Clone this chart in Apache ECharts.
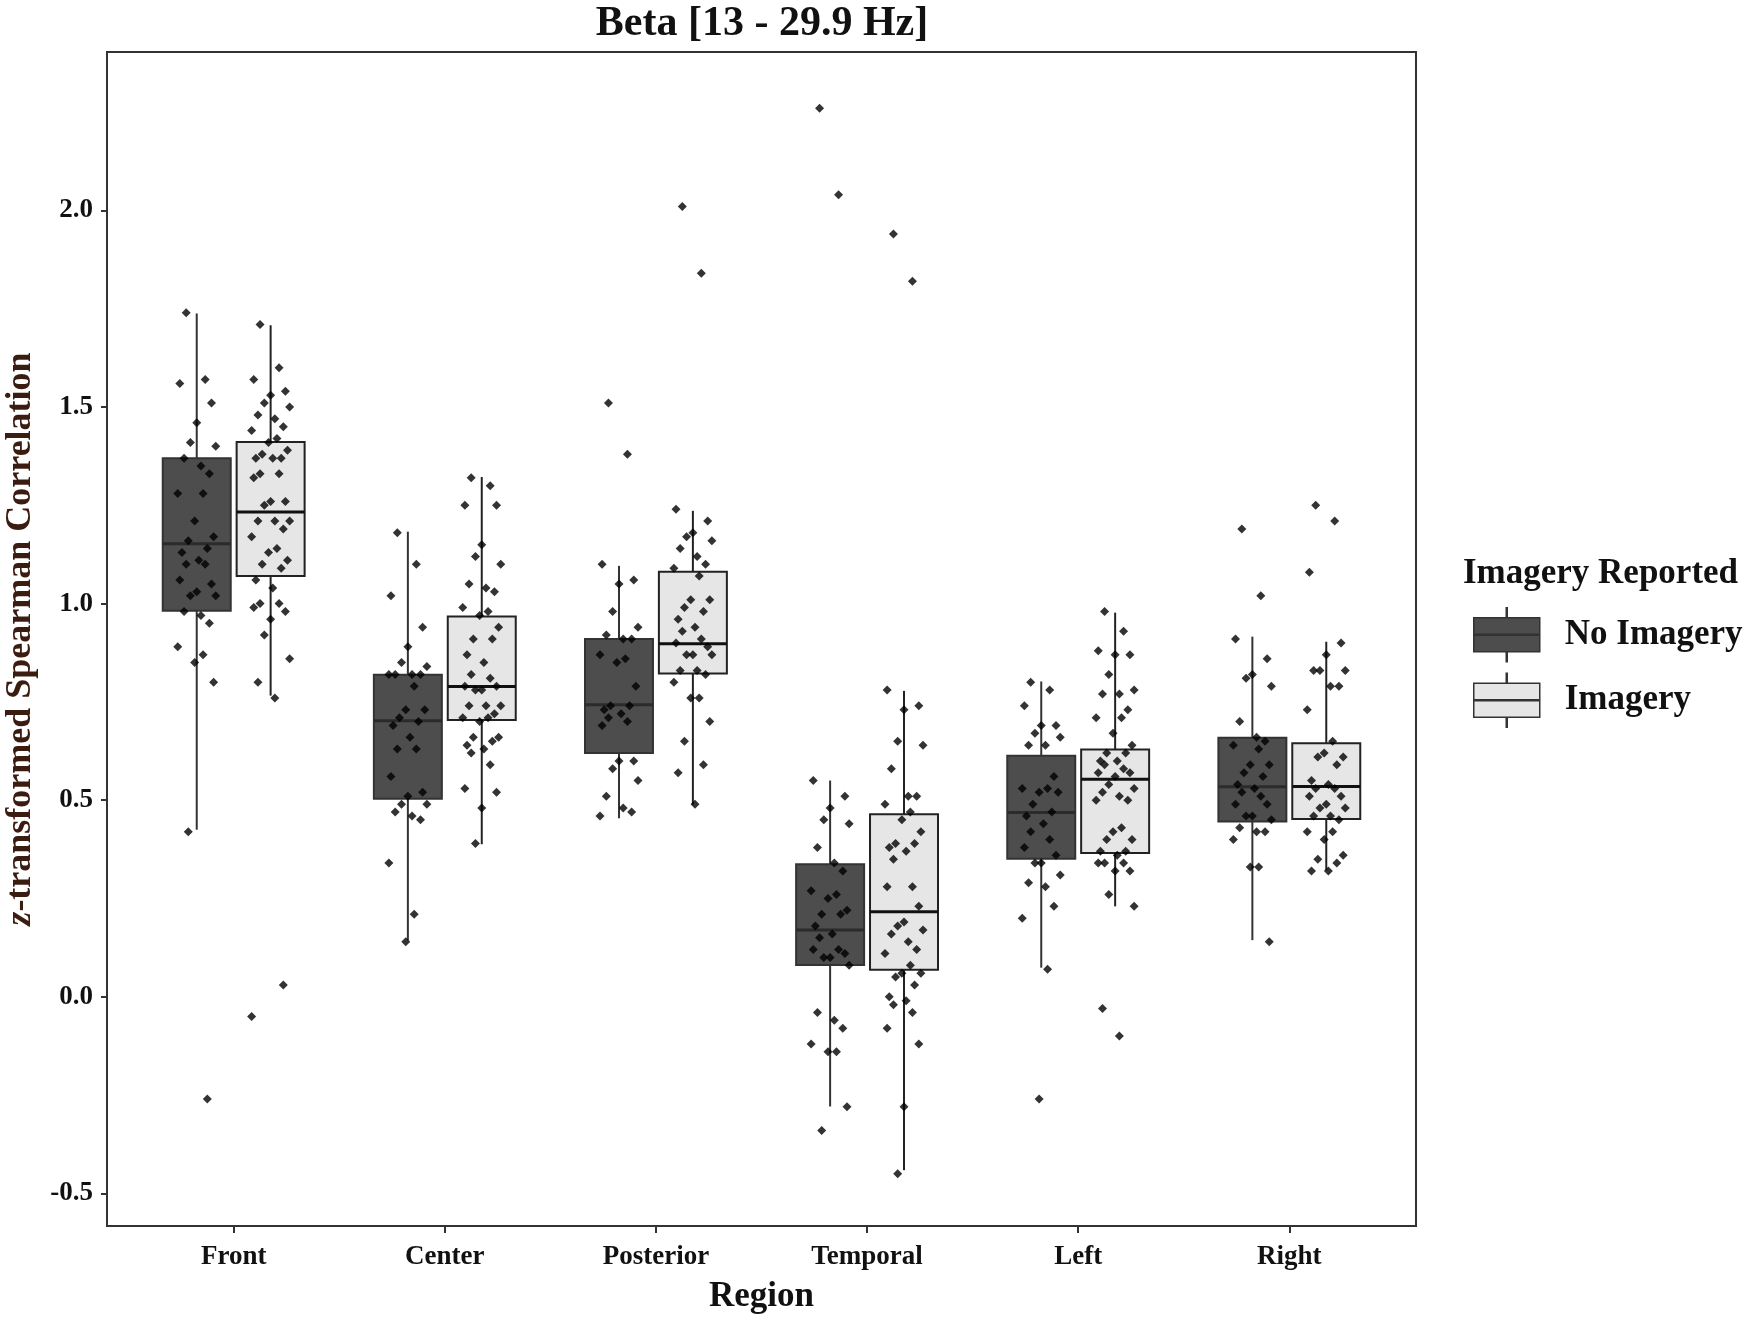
<!DOCTYPE html>
<html>
<head>
<meta charset="utf-8">
<title>Beta [13 - 29.9 Hz]</title>
<script src="https://cdn.jsdelivr.net/npm/echarts@6.0.0/dist/echarts.min.js"></script>
<style>
  html, body { margin: 0; padding: 0; background: #fff; }
  #chart { width: 1752px; height: 1320px; }
</style>
</head>
<body>
<div id="chart"></div>
<script>
// regions on the x axis and the y ticks
var REGIONS = ['Front', 'Center', 'Posterior', 'Temporal', 'Left', 'Right'];
var Y_TICKS = [-0.5, 0, 0.5, 1, 1.5, 2];

// box stats per region: [lower whisker, Q1, median, Q3, upper whisker]
var BOX_NO = [
    [0.425, 0.982, 1.152, 1.370, 1.738],
    [0.144, 0.504, 0.702, 0.819, 1.183],
    [0.454, 0.620, 0.743, 0.910, 1.096],
    [-0.279, 0.081, 0.170, 0.337, 0.550],
    [0.074, 0.351, 0.469, 0.613, 0.802],
    [0.144, 0.446, 0.534, 0.659, 0.916]
];
var BOX_IM = [
    [0.766, 1.070, 1.233, 1.411, 1.708],
    [0.388, 0.704, 0.789, 0.967, 1.322],
    [0.489, 0.822, 0.898, 1.081, 1.236],
    [-0.441, 0.069, 0.216, 0.464, 0.778],
    [0.230, 0.366, 0.553, 0.629, 0.977],
    [0.322, 0.452, 0.535, 0.645, 0.903]
];

// individual subjects, No Imagery
var PTS_NO_FRONT = [1.74,1.57,1.56,1.51,1.46,1.41,1.40,1.37,1.35,1.33,1.28,1.28,1.21,1.17,1.16,1.14,1.13,1.11,1.10,1.10,1.06,1.05,1.03,1.02,1.02,0.98,0.97,0.95,0.89,0.87,0.85,0.80,0.42,-0.26];
var PTS_NO_CENTER = [1.18,1.10,1.02,0.94,0.89,0.85,0.84,0.82,0.82,0.82,0.82,0.79,0.73,0.73,0.71,0.70,0.69,0.66,0.63,0.63,0.56,0.52,0.51,0.49,0.49,0.47,0.46,0.45,0.34,0.21,0.14];
var PTS_NO_POST = [1.51,1.38,1.10,1.06,1.05,0.98,0.94,0.92,0.91,0.91,0.87,0.86,0.85,0.79,0.74,0.74,0.73,0.72,0.71,0.70,0.69,0.60,0.60,0.58,0.55,0.51,0.48,0.47,0.46];
var PTS_NO_TEMP = [2.26,2.04,0.55,0.51,0.48,0.45,0.44,0.38,0.34,0.32,0.27,0.26,0.25,0.22,0.21,0.21,0.18,0.16,0.15,0.12,0.12,0.11,0.10,0.10,0.08,-0.04,-0.06,-0.08,-0.12,-0.14,-0.14,-0.28,-0.34];
var PTS_NO_LEFT = [0.80,0.78,0.74,0.69,0.69,0.67,0.66,0.64,0.64,0.56,0.53,0.53,0.52,0.52,0.49,0.47,0.46,0.44,0.42,0.40,0.38,0.36,0.34,0.34,0.31,0.29,0.28,0.23,0.20,0.07,-0.26];
var PTS_NO_RIGHT = [1.19,1.02,0.91,0.86,0.82,0.81,0.79,0.70,0.66,0.65,0.64,0.63,0.59,0.59,0.57,0.56,0.54,0.53,0.52,0.51,0.49,0.49,0.46,0.46,0.45,0.43,0.42,0.42,0.40,0.33,0.33,0.14];

// individual subjects, Imagery
var PTS_IM_FRONT = [1.71,1.60,1.57,1.54,1.53,1.51,1.50,1.48,1.47,1.45,1.44,1.42,1.41,1.39,1.38,1.37,1.37,1.37,1.33,1.33,1.32,1.26,1.26,1.25,1.21,1.21,1.21,1.19,1.17,1.14,1.13,1.11,1.10,1.09,1.06,1.04,1.00,1.00,0.99,0.98,0.96,0.92,0.86,0.80,0.76,0.03,-0.05];
var PTS_IM_CENTER = [1.32,1.30,1.25,1.25,1.15,1.12,1.10,1.05,1.04,1.03,0.99,0.98,0.97,0.94,0.91,0.91,0.87,0.85,0.82,0.81,0.79,0.79,0.78,0.78,0.74,0.74,0.74,0.72,0.71,0.71,0.70,0.66,0.66,0.65,0.64,0.63,0.62,0.59,0.53,0.52,0.48,0.39];
var PTS_IM_POST = [2.01,1.84,1.24,1.21,1.18,1.17,1.16,1.14,1.12,1.10,1.09,1.07,1.01,1.01,0.99,0.98,0.96,0.94,0.93,0.91,0.90,0.89,0.87,0.87,0.87,0.83,0.83,0.82,0.80,0.76,0.76,0.70,0.65,0.59,0.57,0.49];
var PTS_IM_TEMP = [1.94,1.82,0.78,0.74,0.73,0.65,0.64,0.58,0.51,0.51,0.49,0.47,0.45,0.42,0.39,0.39,0.38,0.37,0.35,0.28,0.28,0.23,0.19,0.18,0.17,0.16,0.14,0.12,0.11,0.08,0.06,0.06,0.05,0.03,0.00,-0.01,-0.02,-0.04,-0.08,-0.12,-0.28,-0.45];
var PTS_IM_LEFT = [0.98,0.93,0.88,0.87,0.87,0.82,0.78,0.77,0.77,0.73,0.71,0.71,0.67,0.64,0.62,0.62,0.60,0.60,0.59,0.58,0.57,0.57,0.56,0.54,0.53,0.52,0.51,0.50,0.50,0.43,0.42,0.40,0.40,0.37,0.37,0.36,0.34,0.34,0.34,0.32,0.32,0.26,0.23,-0.03,-0.10];
var PTS_IM_RIGHT = [1.25,1.21,1.08,0.90,0.87,0.83,0.83,0.83,0.79,0.79,0.73,0.65,0.62,0.61,0.61,0.59,0.55,0.54,0.53,0.53,0.51,0.51,0.49,0.48,0.48,0.46,0.46,0.45,0.42,0.42,0.40,0.36,0.35,0.34,0.32,0.32];

var PTS_NO = [PTS_NO_FRONT, PTS_NO_CENTER, PTS_NO_POST, PTS_NO_TEMP, PTS_NO_LEFT, PTS_NO_RIGHT];
var PTS_IM = [PTS_IM_FRONT, PTS_IM_CENTER, PTS_IM_POST, PTS_IM_TEMP, PTS_IM_LEFT, PTS_IM_RIGHT];

// layout: dodge offset and box width in category units, jitter cycle
var DODGE = 0.175;
var BOX_W = 0.322;
var JIT = [-0.05, 0.04, -0.08, 0.07, 0.00, -0.03, 0.09, -0.06, 0.02, 0.06, -0.09, 0.03, -0.01, 0.08, -0.04, 0.05, -0.07, 0.01];

var SERIF = '"Liberation Serif", "DejaVu Serif", serif';
var KEY_ICON = 'path://M0 10 L66 10 L66 44 L0 44 Z M32.5 0 L33.5 0 L33.5 10 L32.5 10 Z M32.5 44 L33.5 44 L33.5 54 L32.5 54 Z M0 26.5 L66 26.5 L66 27.5 L0 27.5 Z';

function boxRows(stats) {
    return stats.map(function (s, i) { return [i + 1].concat(s); });
}

function pointRows(groups, offset) {
    var rows = [];
    groups.forEach(function (vals, i) {
        vals.forEach(function (v, k) {
            rows.push([i + 1 + offset + JIT[k % JIT.length], v]);
        });
    });
    return rows;
}

function boxRenderer(offset, fill, edge, medColor) {
    return function (params, api) {
        var x = api.value(0) + offset;
        var lo = api.coord([x, api.value(1)]);
        var q1 = api.coord([x, api.value(2)]);
        var md = api.coord([x, api.value(3)]);
        var q3 = api.coord([x, api.value(4)]);
        var hi = api.coord([x, api.value(5)]);
        var w = api.size([BOX_W, 0])[0];
        var ln = { stroke: edge, lineWidth: 2 };
        return {
            type: 'group',
            children: [
                { type: 'line', shape: { x1: hi[0], y1: hi[1], x2: q3[0], y2: q3[1] }, style: ln },
                { type: 'line', shape: { x1: q1[0], y1: q1[1], x2: lo[0], y2: lo[1] }, style: ln },
                { type: 'rect', shape: { x: q3[0] - w / 2, y: q3[1], width: w, height: q1[1] - q3[1] },
                  style: { fill: fill, stroke: edge, lineWidth: 2 } },
                { type: 'line', shape: { x1: md[0] - w / 2, y1: md[1], x2: md[0] + w / 2, y2: md[1] },
                  style: { stroke: medColor, lineWidth: 3 } }
            ]
        };
    };
}

var chart = echarts.init(document.getElementById('chart'));

var option = {
    backgroundColor: '#fff',
    animation: false,
    title: [
        { text: 'Beta [13 - 29.9 Hz]', left: 757, top: -2, textAlign: 'center',
          textStyle: { fontFamily: SERIF, fontWeight: 'bold', fontSize: 42, color: '#111' } },
        { text: 'Imagery Reported', left: 1458, top: 551,
          textStyle: { fontFamily: SERIF, fontWeight: 'bold', fontSize: 35, color: '#111' } }
    ],
    legend: {
        orient: 'vertical',
        left: 1473,
        top: 607,
        padding: 0,
        itemWidth: 66,
        itemHeight: 54,
        itemGap: 10,
        selectedMode: false,
        textStyle: { fontFamily: SERIF, fontWeight: 'bold', fontSize: 35, color: '#111', padding: [6, 0, 0, 20] },
        data: [
            { name: 'No Imagery', icon: KEY_ICON, itemStyle: { color: '#4d4d4d', borderColor: '#333', borderWidth: 1.5 } },
            { name: 'Imagery', icon: KEY_ICON, itemStyle: { color: '#e6e6e6', borderColor: '#333', borderWidth: 1.5 } }
        ]
    },
    grid: {
        left: 107, right: 336, top: 52, bottom: 94,
        outerBoundsMode: 'none',
        containLabel: false,
        show: true, borderColor: '#333', borderWidth: 2, backgroundColor: '#fff'
    },
    xAxis: {
        type: 'value',
        min: 0.4,
        max: 6.6,
        name: 'Region',
        nameLocation: 'middle',
        nameGap: 53,
        nameTextStyle: { fontFamily: SERIF, fontWeight: 'bold', fontSize: 35, color: '#111' },
        axisLine: { show: true, onZero: false, lineStyle: { color: '#333', width: 2 } },
        axisTick: { show: true, length: 7, lineStyle: { color: '#333', width: 2 }, customValues: [1, 2, 3, 4, 5, 6] },
        axisLabel: {
            customValues: [1, 2, 3, 4, 5, 6],
            margin: 18,
            fontFamily: SERIF, fontWeight: 'bold', fontSize: 27, color: '#111',
            formatter: function (v) { return REGIONS[Math.round(v) - 1]; }
        },
        splitLine: { show: false }
    },
    yAxis: {
        type: 'value',
        min: -0.583,
        max: 2.403,
        name: '{i|z}-transformed Spearman Correlation',
        nameLocation: 'middle',
        nameGap: 68,
        nameTextStyle: {
            fontFamily: SERIF, fontWeight: 'bold', fontSize: 36, color: '#3b1c10',
            rich: { i: { fontFamily: SERIF, fontStyle: 'italic', fontWeight: 'bold', fontSize: 36, color: '#3b1c10' } }
        },
        axisLine: { show: true, onZero: false, lineStyle: { color: '#333', width: 2 } },
        axisTick: { show: true, length: 6, lineStyle: { color: '#333', width: 2 }, customValues: Y_TICKS },
        axisLabel: {
            customValues: Y_TICKS,
            margin: 14,
            fontFamily: SERIF, fontWeight: 'bold', fontSize: 27, color: '#111',
            formatter: function (v) { return v.toFixed(1); }
        },
        splitLine: { show: false }
    },
    series: [
        {
            name: 'No Imagery',
            type: 'custom',
            itemStyle: { color: '#4d4d4d' },
            encode: { x: 0, y: [1, 2, 3, 4, 5] },
            renderItem: boxRenderer(-DODGE, '#4d4d4d', '#333', '#2b2b2b'),
            data: boxRows(BOX_NO),
            z: 2
        },
        {
            name: 'Imagery',
            type: 'custom',
            itemStyle: { color: '#e6e6e6' },
            encode: { x: 0, y: [1, 2, 3, 4, 5] },
            renderItem: boxRenderer(DODGE, '#e6e6e6', '#222', '#111'),
            data: boxRows(BOX_IM),
            z: 2
        },
        {
            name: 'No Imagery',
            type: 'scatter',
            symbol: 'diamond',
            symbolSize: 9,
            itemStyle: { color: '#000' },
            data: pointRows(PTS_NO, -DODGE),
            z: 5
        },
        {
            name: 'Imagery',
            type: 'scatter',
            symbol: 'diamond',
            symbolSize: 9,
            itemStyle: { color: '#000' },
            data: pointRows(PTS_IM, DODGE),
            z: 5
        }
    ]
};

chart.setOption(option);
</script>
</body>
</html>
